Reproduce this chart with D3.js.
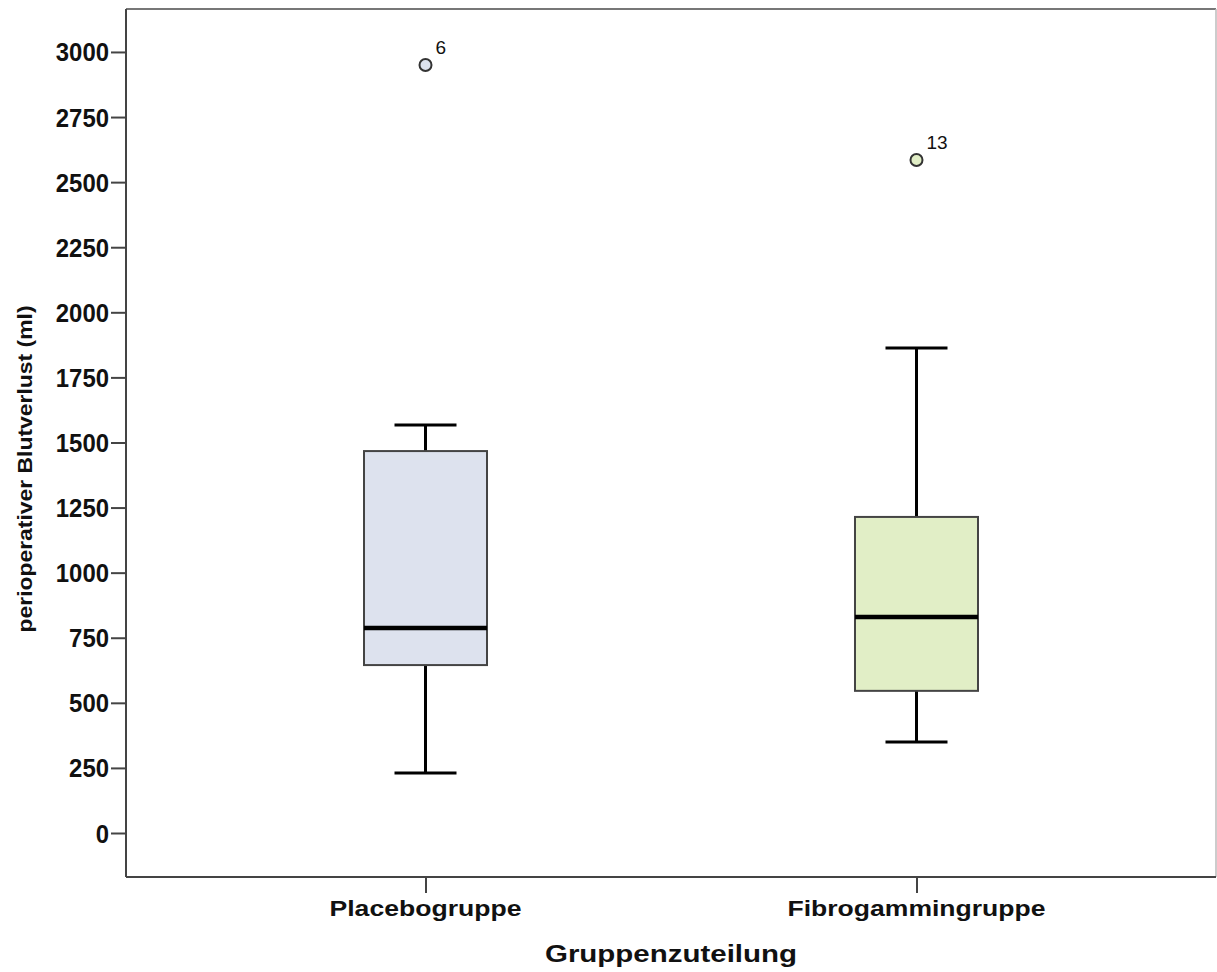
<!DOCTYPE html>
<html lang="de">
<head>
    <meta charset="UTF-8">
    <title>Blutverlust Boxplot</title>
    <script src="https://d3js.org/d3.v7.min.js"></script>
    <style>
        body { margin: 0; background: #fff; }
        svg { display: block; }
        text { font-family: "Liberation Sans", Arial, sans-serif; fill: #111; }
    </style>
</head>
<body>
    <svg></svg>

    <script>
const width = 1217, height = 972;

// Daten
const categories = ["Placebogruppe", "Fibrogammingruppe"];
const whiskerLow = [230, 350];
const q1 = [645, 546];
const median = [787, 830];
const q3 = [1467, 1214];
const whiskerHigh = [1567, 1863];
const outlierValues = [2950, 2585];
const outlierLabels = ["6", "13"];
const fills = ["#dde2ee", "#e1eec6"];
const yTicks = d3.range(0, 3001, 250);

const plot = {left: 126, right: 1216, top: 9, bottom: 877};

const svg = d3.select("svg")
    .attr("width", width)
    .attr("height", height);

const y = d3.scaleLinear()
    .domain([-169, 3165])
    .range([plot.bottom, plot.top]);

const x = d3.scalePoint()
    .domain(categories)
    .range([plot.left, plot.right])
    .padding(0.61);

const boxW = 123, capW = 62;

// Rahmen oben/rechts
svg.append("line")
    .attr("x1", plot.left).attr("x2", plot.right)
    .attr("y1", plot.top).attr("y2", plot.top)
    .attr("stroke", "#777").attr("stroke-width", 2);
svg.append("line")
    .attr("x1", plot.right).attr("x2", plot.right)
    .attr("y1", plot.top).attr("y2", plot.bottom)
    .attr("stroke", "#bbb").attr("stroke-width", 1.5);

// Y-Achse
const yAxis = svg.append("g")
    .attr("transform", `translate(${plot.left},0)`)
    .call(d3.axisLeft(y).tickValues(yTicks).tickFormat(d3.format("d"))
        .tickSize(15).tickPadding(2).tickSizeOuter(0));
yAxis.select(".domain").attr("stroke", "#444").attr("stroke-width", 2)
    .attr("d", `M0,${plot.top}V${plot.bottom}`);
yAxis.selectAll(".tick line").attr("stroke", "#444").attr("stroke-width", 2);
yAxis.selectAll(".tick text")
    .attr("dy", "0.36em")
    .attr("textLength", d => 13.3 * String(d).length)
    .attr("lengthAdjust", "spacingAndGlyphs")
    .style("font-size", "25px").style("font-weight", "bold").attr("fill", "#111");

// X-Achse
const xAxis = svg.append("g")
    .attr("transform", `translate(0,${plot.bottom})`)
    .call(d3.axisBottom(x).tickSize(16).tickSizeOuter(0).tickFormat(""));
xAxis.select(".domain").attr("stroke", "#444").attr("stroke-width", 2)
    .attr("d", `M${plot.left},0H${plot.right}`);
xAxis.selectAll(".tick line").attr("stroke", "#444").attr("stroke-width", 2);

const catLen = [192, 258];
svg.selectAll(".cat")
    .data(categories)
    .join("text")
    .attr("class", "cat")
    .attr("x", d => x(d))
    .attr("y", 916)
    .attr("text-anchor", "middle")
    .attr("textLength", (d, i) => catLen[i])
    .attr("lengthAdjust", "spacingAndGlyphs")
    .style("font-size", "22px").style("font-weight", "bold")
    .text(d => d);

// Achsentitel
svg.append("text")
    .attr("x", 671).attr("y", 962)
    .attr("text-anchor", "middle")
    .attr("textLength", 252)
    .attr("lengthAdjust", "spacingAndGlyphs")
    .style("font-size", "23.5px").style("font-weight", "bold")
    .text("Gruppenzuteilung");

svg.append("text")
    .attr("transform", "translate(32,469) rotate(-90)")
    .attr("text-anchor", "middle")
    .attr("textLength", 327)
    .attr("lengthAdjust", "spacingAndGlyphs")
    .style("font-size", "20px").style("font-weight", "bold")
    .text("perioperativer Blutverlust (ml)");

// Boxplots
const groups = svg.selectAll(".box")
    .data(categories)
    .join("g")
    .attr("class", "box");

// Whisker
groups.append("line")
    .attr("x1", d => x(d)).attr("x2", d => x(d))
    .attr("y1", (d, i) => y(whiskerLow[i])).attr("y2", (d, i) => y(q1[i]))
    .attr("stroke", "#000").attr("stroke-width", 3);
groups.append("line")
    .attr("x1", d => x(d)).attr("x2", d => x(d))
    .attr("y1", (d, i) => y(q3[i])).attr("y2", (d, i) => y(whiskerHigh[i]))
    .attr("stroke", "#000").attr("stroke-width", 3);
groups.append("line")
    .attr("x1", d => x(d) - capW / 2).attr("x2", d => x(d) + capW / 2)
    .attr("y1", (d, i) => y(whiskerLow[i])).attr("y2", (d, i) => y(whiskerLow[i]))
    .attr("stroke", "#000").attr("stroke-width", 3);
groups.append("line")
    .attr("x1", d => x(d) - capW / 2).attr("x2", d => x(d) + capW / 2)
    .attr("y1", (d, i) => y(whiskerHigh[i])).attr("y2", (d, i) => y(whiskerHigh[i]))
    .attr("stroke", "#000").attr("stroke-width", 3);

// Box
groups.append("rect")
    .attr("x", d => x(d) - boxW / 2)
    .attr("width", boxW)
    .attr("y", (d, i) => y(q3[i]))
    .attr("height", (d, i) => y(q1[i]) - y(q3[i]))
    .attr("fill", (d, i) => fills[i])
    .attr("stroke", "#444").attr("stroke-width", 2);

// Median
groups.append("line")
    .attr("x1", d => x(d) - boxW / 2).attr("x2", d => x(d) + boxW / 2)
    .attr("y1", (d, i) => y(median[i])).attr("y2", (d, i) => y(median[i]))
    .attr("stroke", "#000").attr("stroke-width", 4.5);

// Ausreißer
groups.append("circle")
    .attr("cx", d => x(d))
    .attr("cy", (d, i) => y(outlierValues[i]))
    .attr("r", 6)
    .attr("fill", (d, i) => fills[i])
    .attr("stroke", "#333").attr("stroke-width", 2);

groups.append("text")
    .attr("x", d => x(d) + 10)
    .attr("y", (d, i) => y(outlierValues[i]) - 11)
    .style("font-size", "19px")
    .attr("fill", "#222")
    .text((d, i) => outlierLabels[i]);
    </script>
</body>
</html>
